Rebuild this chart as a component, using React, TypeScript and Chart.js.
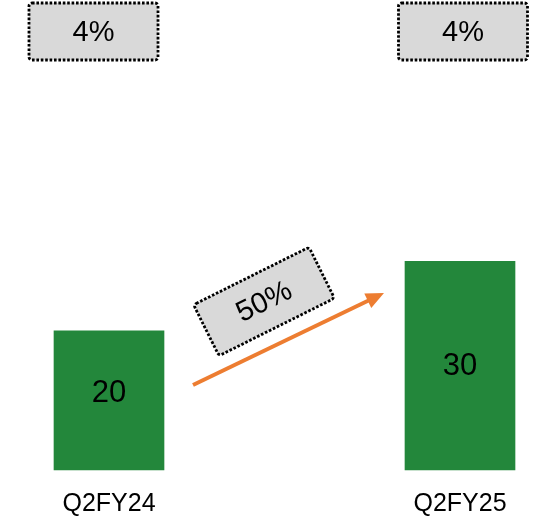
import React, { useEffect, useRef } from "react";
import { Chart, registerables } from "chart.js";

Chart.register(...registerables);

// Quarterly values shown as bars, with the margin shown above each quarter.
const categories = ["Q2FY24", "Q2FY25"];
const revenue = [20, 30];
const margins = [4, 4];

const BAR_COLOR = "#23873B";
const BOX_FILL = "#D9D9D9";
const ARROW_COLOR = "#ED7D31";
const FONT = "'Liberation Sans', Arial, Helvetica, sans-serif";

function drawDottedBox(
  ctx: CanvasRenderingContext2D,
  cx: number,
  cy: number,
  w: number,
  h: number,
  angle: number,
  text: string
) {
  ctx.save();
  ctx.translate(cx, cy);
  ctx.rotate(angle);
  ctx.beginPath();
  ctx.roundRect(-w / 2, -h / 2, w, h, 3);
  ctx.fillStyle = BOX_FILL;
  ctx.fill();
  ctx.setLineDash([2.6, 1.8]);
  ctx.lineWidth = 2.8;
  ctx.strokeStyle = "#000";
  ctx.stroke();
  ctx.setLineDash([]);
  ctx.fillStyle = "#000";
  ctx.font = `29px ${FONT}`;
  ctx.textAlign = "center";
  ctx.textBaseline = "middle";
  ctx.fillText(text, 0, 1);
  ctx.restore();
}

const annotations = {
  id: "annotations",
  afterDatasetsDraw(chart: any) {
    const ctx: CanvasRenderingContext2D = chart.ctx;
    const meta = chart.getDatasetMeta(0);
    const bars = meta.data as any[];
    const bottom = chart.chartArea.bottom;

    // value labels inside the bars
    const labelNudge = [-7, 1];
    ctx.save();
    ctx.fillStyle = "#000";
    ctx.font = `31px ${FONT}`;
    ctx.textAlign = "center";
    ctx.textBaseline = "middle";
    bars.forEach((bar, i) => {
      ctx.fillText(String(revenue[i]), bar.x, (bar.y + bar.base) / 2 + labelNudge[i]);
    });
    ctx.restore();

    // margin boxes at the top
    const boxShift = [-15.5, 3];
    bars.forEach((bar, i) => {
      drawDottedBox(ctx, bar.x + boxShift[i], 31.5, 129, 57, 0, `${margins[i]}%`);
    });

    // growth arrow between the two bars
    const b0 = bars[0];
    const b1 = bars[1];
    const x0 = b0.x + b0.width / 2 + 29;
    const y0 = bottom - 85;
    const x1 = b1.x - b1.width / 2 - 21;
    const y1 = bottom - 177;
    const ang = Math.atan2(y1 - y0, x1 - x0);
    const headLen = 18;
    const headHalf = 8;
    ctx.save();
    ctx.strokeStyle = ARROW_COLOR;
    ctx.fillStyle = ARROW_COLOR;
    ctx.lineWidth = 4;
    ctx.beginPath();
    ctx.moveTo(x0, y0);
    ctx.lineTo(x1 - Math.cos(ang) * (headLen - 2), y1 - Math.sin(ang) * (headLen - 2));
    ctx.stroke();
    ctx.translate(x1, y1);
    ctx.rotate(ang);
    ctx.beginPath();
    ctx.moveTo(0, 0);
    ctx.lineTo(-headLen, -headHalf);
    ctx.lineTo(-headLen, headHalf);
    ctx.closePath();
    ctx.fill();
    ctx.restore();

    // growth label box
    const growth = Math.round(((revenue[1] - revenue[0]) / revenue[0]) * 100);
    const mx = (x0 + x1) / 2 - 24.5;
    const my = (y0 + y1) / 2 - 37.5;
    drawDottedBox(ctx, mx, my, 129, 57, (-26.5 * Math.PI) / 180, `${growth}%`);
  },
};

export default function App() {
  const canvasRef = useRef<HTMLCanvasElement | null>(null);

  useEffect(() => {
    if (!canvasRef.current) return;
    const chart = new Chart(canvasRef.current, {
      type: "bar",
      data: {
        labels: categories,
        datasets: [
          {
            data: revenue,
            backgroundColor: BAR_COLOR,
            borderWidth: 0,
            barThickness: 110,
            clip: false as any,
          },
        ],
      },
      options: {
        animation: false,
        responsive: true,
        maintainAspectRatio: false,
        layout: { padding: { left: 109, right: 79, top: 0, bottom: 0 } },
        plugins: {
          legend: { display: false },
          tooltip: { enabled: false },
        },
        scales: {
          x: {
            offset: false,
            grid: { display: false },
            border: { display: false },
            ticks: {
              color: "#000",
              font: { family: FONT, size: 25 },
              padding: 11,
              maxRotation: 0,
            },
            afterFit(scale: any) {
              scale.height = 56;
            },
          },
          y: {
            display: false,
            min: 0,
            max: 67.6,
          },
        },
      },
      plugins: [annotations],
    });
    return () => chart.destroy();
  }, []);

  return (
    <div style={{ position: "absolute", left: 0, top: 0, width: 539, height: 526, background: "#fff" }}>
      <canvas ref={canvasRef} />
    </div>
  );
}
